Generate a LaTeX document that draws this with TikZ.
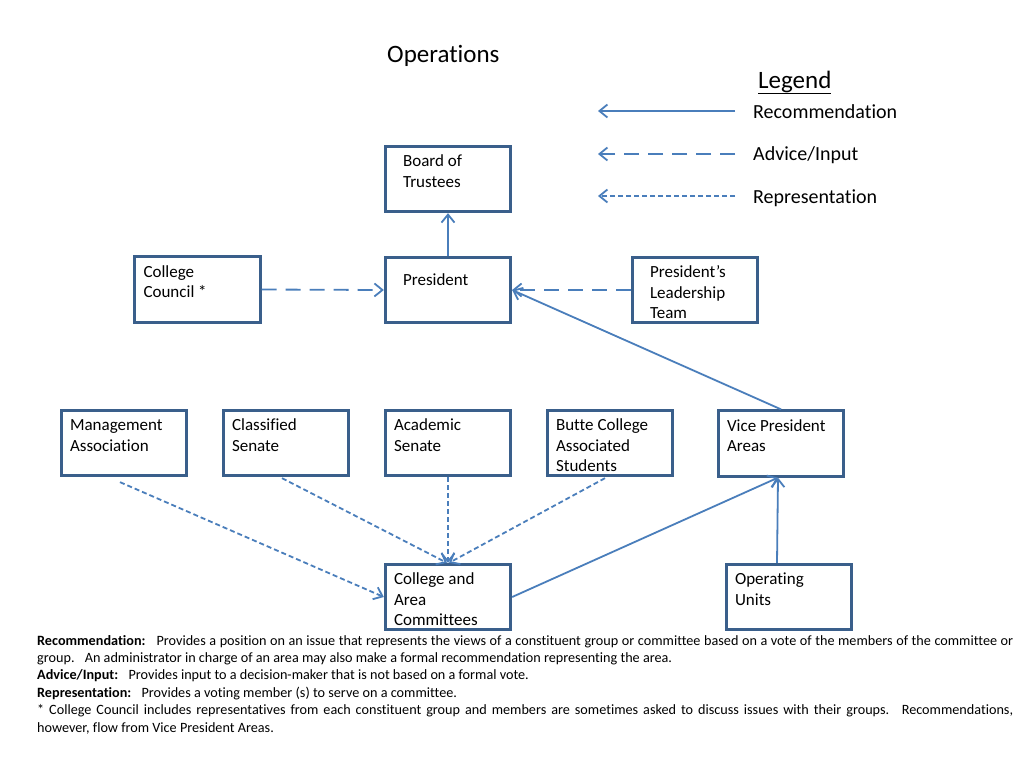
\documentclass[tikz,border=0pt]{standalone}
\usepackage{fontspec}
\setmainfont{Carlito}[Ligatures={NoCommon}]
\usetikzlibrary{arrows.meta,calc}
\definecolor{boxc}{HTML}{3A5F8B}
\definecolor{arrc}{HTML}{4A7EBB}
\begin{document}
\begin{tikzpicture}[x=1pt,y=-1pt,
  box/.style={draw=boxc, line width=2.8pt, minimum width=125.5pt, minimum height=65.5pt, inner sep=0pt},
  txt/.style={anchor=north west, inner sep=0pt, align=left, font=\fontsize{17}{20.5}\selectfont},
  conn/.style={draw=arrc, line width=1.8pt, -{Straight Barb[length=8pt,width=13pt]}},
  rec/.style={conn},
  adv/.style={conn, dash pattern=on 15pt off 9pt},
  rep/.style={conn, dash pattern=on 5pt off 3pt},
  note/.style={anchor=base west, inner sep=0pt, font=\fontsize{14.2}{17}\selectfont},
]
\fill[white] (0,0) rectangle (1024,768);
\useasboundingbox (0,0) rectangle (1024,768);

% title and legend
\node[anchor=base west, inner sep=0pt, font=\fontsize{25}{30}\selectfont] (title) at (387,63) {Operations};
\node[anchor=base west, inner sep=0pt, font=\fontsize{25}{30}\selectfont] (legend) at (758,88) {\underline{Legend}};
\node[anchor=base west, inner sep=0pt, font=\fontsize{20}{24}\selectfont] (lrec) at (753,118) {Recommendation};
\node[anchor=base west, inner sep=0pt, font=\fontsize{20}{24}\selectfont] (ladv) at (753,160) {Advice/Input};
\node[anchor=base west, inner sep=0pt, font=\fontsize{20}{24}\selectfont] (lrep) at (753,203) {Representation};
\coordinate (l1s) at (735,111); \coordinate (l1e) at (598,111);
\coordinate (l2s) at (735,154); \coordinate (l2e) at (598,154);
\coordinate (l3s) at (735,196); \coordinate (l3e) at (598,196);
\draw[rec] (l1s) -- (l1e);
\draw[adv] (l2s) -- (l2e);
\draw[rep] (l3s) -- (l3e);

% boxes
\node[box] (board) at (448,179) {};
\node[box] (pres) at (448,290) {};
\node[box] (cc) at (197.5,289.5) {};
\node[box] (plt) at (695,290) {};
\node[box] (mgmt) at (124,443) {};
\node[box] (class) at (286,443) {};
\node[box] (acad) at (448,443) {};
\node[box] (butte) at (610,443) {};
\node[box] (vp) at (781,443.5) {};
\node[box] (cac) at (448,597) {};
\node[box] (ou) at (789,597) {};

% box texts
\node[txt] (tboard) at ([shift={(19,7.5)}]board.north west) {\rule{0pt}{14pt}Board of\\Trustees};
\node[txt] (tpres) at ([shift={(19,15.5)}]pres.north west) {\rule{0pt}{14pt}President};
\node[txt] (tcc) at ([shift={(10,7.5)}]cc.north west) {\rule{0pt}{14pt}College\\Council *};
\node[txt] (tplt) at ([shift={(19,7.5)}]plt.north west) {\rule{0pt}{14pt}President’s\\Leadership\\Team};
\node[txt] (tmgmt) at ([shift={(10,7.5)}]mgmt.north west) {\rule{0pt}{14pt}Management\\Association};
\node[txt] (tclass) at ([shift={(10,7.5)}]class.north west) {\rule{0pt}{14pt}Classified\\Senate};
\node[txt] (tacad) at ([shift={(10,7.5)}]acad.north west) {\rule{0pt}{14pt}Academic\\Senate};
\node[txt] (tbutte) at ([shift={(10,7.5)}]butte.north west) {\rule{0pt}{14pt}Butte College\\Associated\\Students};
\node[txt] (tvp) at ([shift={(10,7.5)}]vp.north west) {\rule{0pt}{14pt}Vice President\\Areas};
\node[txt] (tcac) at ([shift={(10,7.5)}]cac.north west) {\rule{0pt}{14pt}College and\\Area\\Committees};
\node[txt] (tou) at ([shift={(10,7.5)}]ou.north west) {\rule{0pt}{14pt}Operating\\Units};

% connectors
\draw[rec] (pres.north) -- (board.south);
\draw[adv] (cc.east) -- (pres.west);
\draw[adv] (plt.west) -- (pres.east);
\draw[rec] (vp.north) -- (pres.east);
\draw[rep] ([shift={(-4,5)}]mgmt.south) -- (cac.west);
\draw[rep] ([shift={(-4,1)}]class.south) -- ([xshift=-1]cac.north);
\draw[rep] (acad.south) -- (cac.north);
\draw[rep] ([shift={(-5,1)}]butte.south) -- ([xshift=1]cac.north);
\draw[rec] (cac.east) -- ([xshift=-3]vp.south);
\draw[rec] ([xshift=-12]ou.north) -- ([xshift=-3]vp.south);

% notes
\node[note] (n1) at (37,645) {\makebox[976pt][s]{\textbf{Recommendation:}\hspace{6pt} Provides a position on an issue that represents the views of a constituent group or committee based on a vote of the members of the committee or}};
\node[note] (n2) at (37,662.4) {group.\hspace{6pt} An administrator in charge of an area may also make a formal recommendation representing the area.};
\node[note] (n3) at (37,679.8) {\textbf{Advice/Input:}\hspace{6pt} Provides input to a decision-maker that is not based on a formal vote.};
\node[note] (n4) at (37,697.2) {\textbf{Representation:}\hspace{6pt} Provides a voting member (s) to serve on a committee.};
\node[note] (n5) at (37,714.6) {\makebox[976pt][s]{* College Council includes representatives from each constituent group and members are sometimes asked to discuss issues with their groups.\hspace{3pt} Recommendations,}};
\node[note] (n6) at (37,732) {however, flow from Vice President Areas.};
\end{tikzpicture}
\end{document}
